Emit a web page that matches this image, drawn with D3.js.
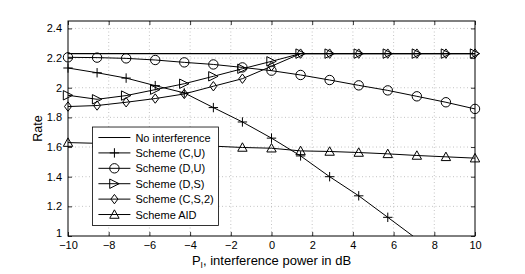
<!DOCTYPE html>
<html>
<head>
<meta charset="utf-8">
<script src="https://cdn.jsdelivr.net/npm/d3@7"></script>
<style>
  body { margin: 0; background: #fff; }
  text { font-family: "Liberation Sans", Arial, sans-serif; fill: #000; }
</style>
</head>
<body>
<div id="chart"></div>
<script>
/* data */
const xPoints = [-10, -8.571, -7.143, -5.714, -4.286, -2.857, -1.429, 0, 1.429, 2.857, 4.286, 5.714, 7.143, 8.571, 10];
const noInterference = [2.23, 2.23, 2.23, 2.23, 2.23, 2.23, 2.23, 2.23, 2.23, 2.23, 2.23, 2.23, 2.23, 2.23, 2.23];
const schemeCU = [2.133, 2.101, 2.065, 2.014, 1.965, 1.866, 1.769, 1.66, 1.54, 1.4, 1.271, 1.126, 0.98, 0.83, 0.69];
const schemeDU = [2.205, 2.203, 2.198, 2.187, 2.171, 2.157, 2.137, 2.115, 2.086, 2.052, 2.016, 1.982, 1.942, 1.902, 1.857];
const schemeDS = [1.949, 1.922, 1.947, 1.987, 2.027, 2.077, 2.128, 2.178, 2.23, 2.23, 2.23, 2.23, 2.23, 2.23, 2.23];
const schemeCS2 = [1.873, 1.88, 1.902, 1.927, 1.958, 2.01, 2.061, 2.145, 2.23, 2.23, 2.23, 2.23, 2.23, 2.23, 2.23];
const schemeAID = [1.63, 1.625, 1.62, 1.615, 1.61, 1.606, 1.597, 1.592, 1.574, 1.57, 1.563, 1.554, 1.543, 1.534, 1.525];

const xTicks = [-10, -8, -6, -4, -2, 0, 2, 4, 6, 8, 10];
const yTicks = [1, 1.2, 1.4, 1.6, 1.8, 2, 2.2, 2.4];

const series = [
  { name: "No interference", values: noInterference, marker: "none" },
  { name: "Scheme (C,U)", values: schemeCU, marker: "plus" },
  { name: "Scheme (D,U)", values: schemeDU, marker: "circle" },
  { name: "Scheme (D,S)", values: schemeDS, marker: "triright" },
  { name: "Scheme (C,S,2)", values: schemeCS2, marker: "diamond" },
  { name: "Scheme AID", values: schemeAID, marker: "triup" }
];

/* svg setup */
const width = 525, height = 274;
const margin = { top: 21, right: 50, bottom: 38, left: 68 };
const w = width - margin.left - margin.right;
const h = height - margin.top - margin.bottom;

const svg = d3.select("#chart").append("svg")
  .attr("width", width)
  .attr("height", height);
const g = svg.append("g").attr("transform", `translate(${margin.left},${margin.top})`);

const x = d3.scaleLinear().domain([-10, 10]).range([0, w]);
const y = d3.scaleLinear().domain([1, 2.45]).range([h, 0]);

/* grid */
g.append("g").selectAll("line").data(xTicks.slice(1, -1)).enter().append("line")
  .attr("x1", d => x(d)).attr("x2", d => x(d))
  .attr("y1", 0).attr("y2", h)
  .attr("stroke", "#aaa").attr("stroke-width", 0.7).attr("stroke-dasharray", "1,2.5");
g.append("g").selectAll("line").data(yTicks.slice(1)).enter().append("line")
  .attr("x1", 0).attr("x2", w)
  .attr("y1", d => y(d)).attr("y2", d => y(d))
  .attr("stroke", "#aaa").attr("stroke-width", 0.7).attr("stroke-dasharray", "1,2.5");

/* axes, ticks inward on all four sides */
const fmt = d => (d < 0 ? "\u2212" + Math.abs(d) : String(d));
g.append("g").attr("transform", `translate(0,${h})`)
  .call(d3.axisBottom(x).tickValues(xTicks).tickSize(-4).tickPadding(5).tickFormat(fmt));
const yAxisG = g.append("g")
  .call(d3.axisLeft(y).tickValues(yTicks).tickSize(-4).tickPadding(6).tickFormat(d3.format("")));
/* lowest y label sits a bit higher, as in the original */
yAxisG.selectAll(".tick").filter(d => d === 1).select("text").attr("y", -3);
g.append("g").call(d3.axisTop(x).tickValues(xTicks).tickSize(-4).tickFormat(""));
g.append("g").attr("transform", `translate(${w},0)`)
  .call(d3.axisRight(y).tickValues(yTicks).tickSize(-4).tickFormat(""));
g.selectAll(".domain").remove();
g.selectAll(".tick line").attr("stroke", "#000").attr("stroke-width", 0.8);
g.selectAll(".tick text").style("font-size", "11px").style("font-family", "Liberation Sans, Arial, sans-serif");

g.append("rect").attr("width", w).attr("height", h)
  .attr("fill", "none").attr("stroke", "#000").attr("stroke-width", 1);

/* markers */
function drawMarker(sel, type) {
  const s = 4.7;
  if (type === "plus") {
    sel.append("path").attr("d", `M${-s},0H${s}M0,${-s}V${s}`);
  } else if (type === "circle") {
    sel.append("circle").attr("r", s);
  } else if (type === "triright") {
    sel.append("path").attr("d", `M${s},0L${-s},${-s}L${-s},${s}Z`);
  } else if (type === "triup") {
    sel.append("path").attr("d", `M0,${-s}L${s},${s * 0.8}L${-s},${s * 0.8}Z`);
  } else if (type === "diamond") {
    sel.append("path").attr("d", `M0,${-s}L${s * 0.75},0L0,${s}L${-s * 0.75},0Z`);
  }
}

svg.append("clipPath").attr("id", "plot-clip")
  .append("rect").attr("width", w).attr("height", h);

const plot = g.append("g").attr("clip-path", "url(#plot-clip)");
const line = d3.line().x((d, i) => x(xPoints[i])).y(d => y(d));

series.forEach(s => {
  plot.append("path").datum(s.values)
    .attr("d", line)
    .attr("fill", "none").attr("stroke", "#000").attr("stroke-width", s.marker === "none" ? 1.3 : 1);
});
/* markers: only those inside the y range */
const marks = g.append("g");
series.forEach(s => {
  if (s.marker === "none") return;
  s.values.forEach((v, i) => {
    if (v < 1) return;
    const m = marks.append("g")
      .attr("transform", `translate(${x(xPoints[i])},${y(v)})`)
      .attr("fill", "none").attr("stroke", "#000").attr("stroke-width", 1);
    drawMarker(m, s.marker);
  });
});

/* legend */
const lg = g.append("g").attr("transform", `translate(${x(-8.8)},${y(1.735)})`);
const lgW = 126, rowH = 15.4;
lg.append("rect").attr("width", lgW).attr("height", rowH * series.length + 6)
  .attr("fill", "#fff").attr("stroke", "#000").attr("stroke-width", 0.8);
series.forEach((s, i) => {
  const row = lg.append("g").attr("transform", `translate(0,${10.5 + i * rowH})`);
  row.append("line").attr("x1", 6).attr("x2", 38).attr("y1", 0).attr("y2", 0)
    .attr("stroke", "#000").attr("stroke-width", 1);
  const m = row.append("g").attr("transform", "translate(22,0)")
    .attr("fill", "none").attr("stroke", "#000").attr("stroke-width", 1);
  drawMarker(m, s.marker);
  row.append("text").attr("x", 43).attr("y", 4)
    .style("font-size", "11px").text(s.name);
});

/* axis labels */
svg.append("text")
  .attr("transform", `translate(42,${margin.top + h / 2}) rotate(-90)`)
  .attr("text-anchor", "middle")
  .style("font-size", "12.5px")
  .text("Rate");

const xl = svg.append("text")
  .attr("x", margin.left + w / 2)
  .attr("y", 264.5)
  .attr("text-anchor", "middle")
  .style("font-size", "13px");
xl.append("tspan").text("P");
xl.append("tspan").attr("dy", 3).style("font-size", "8.5px").text("I");
xl.append("tspan").attr("dy", -3).text(", interference power in dB");
</script>
</body>
</html>
